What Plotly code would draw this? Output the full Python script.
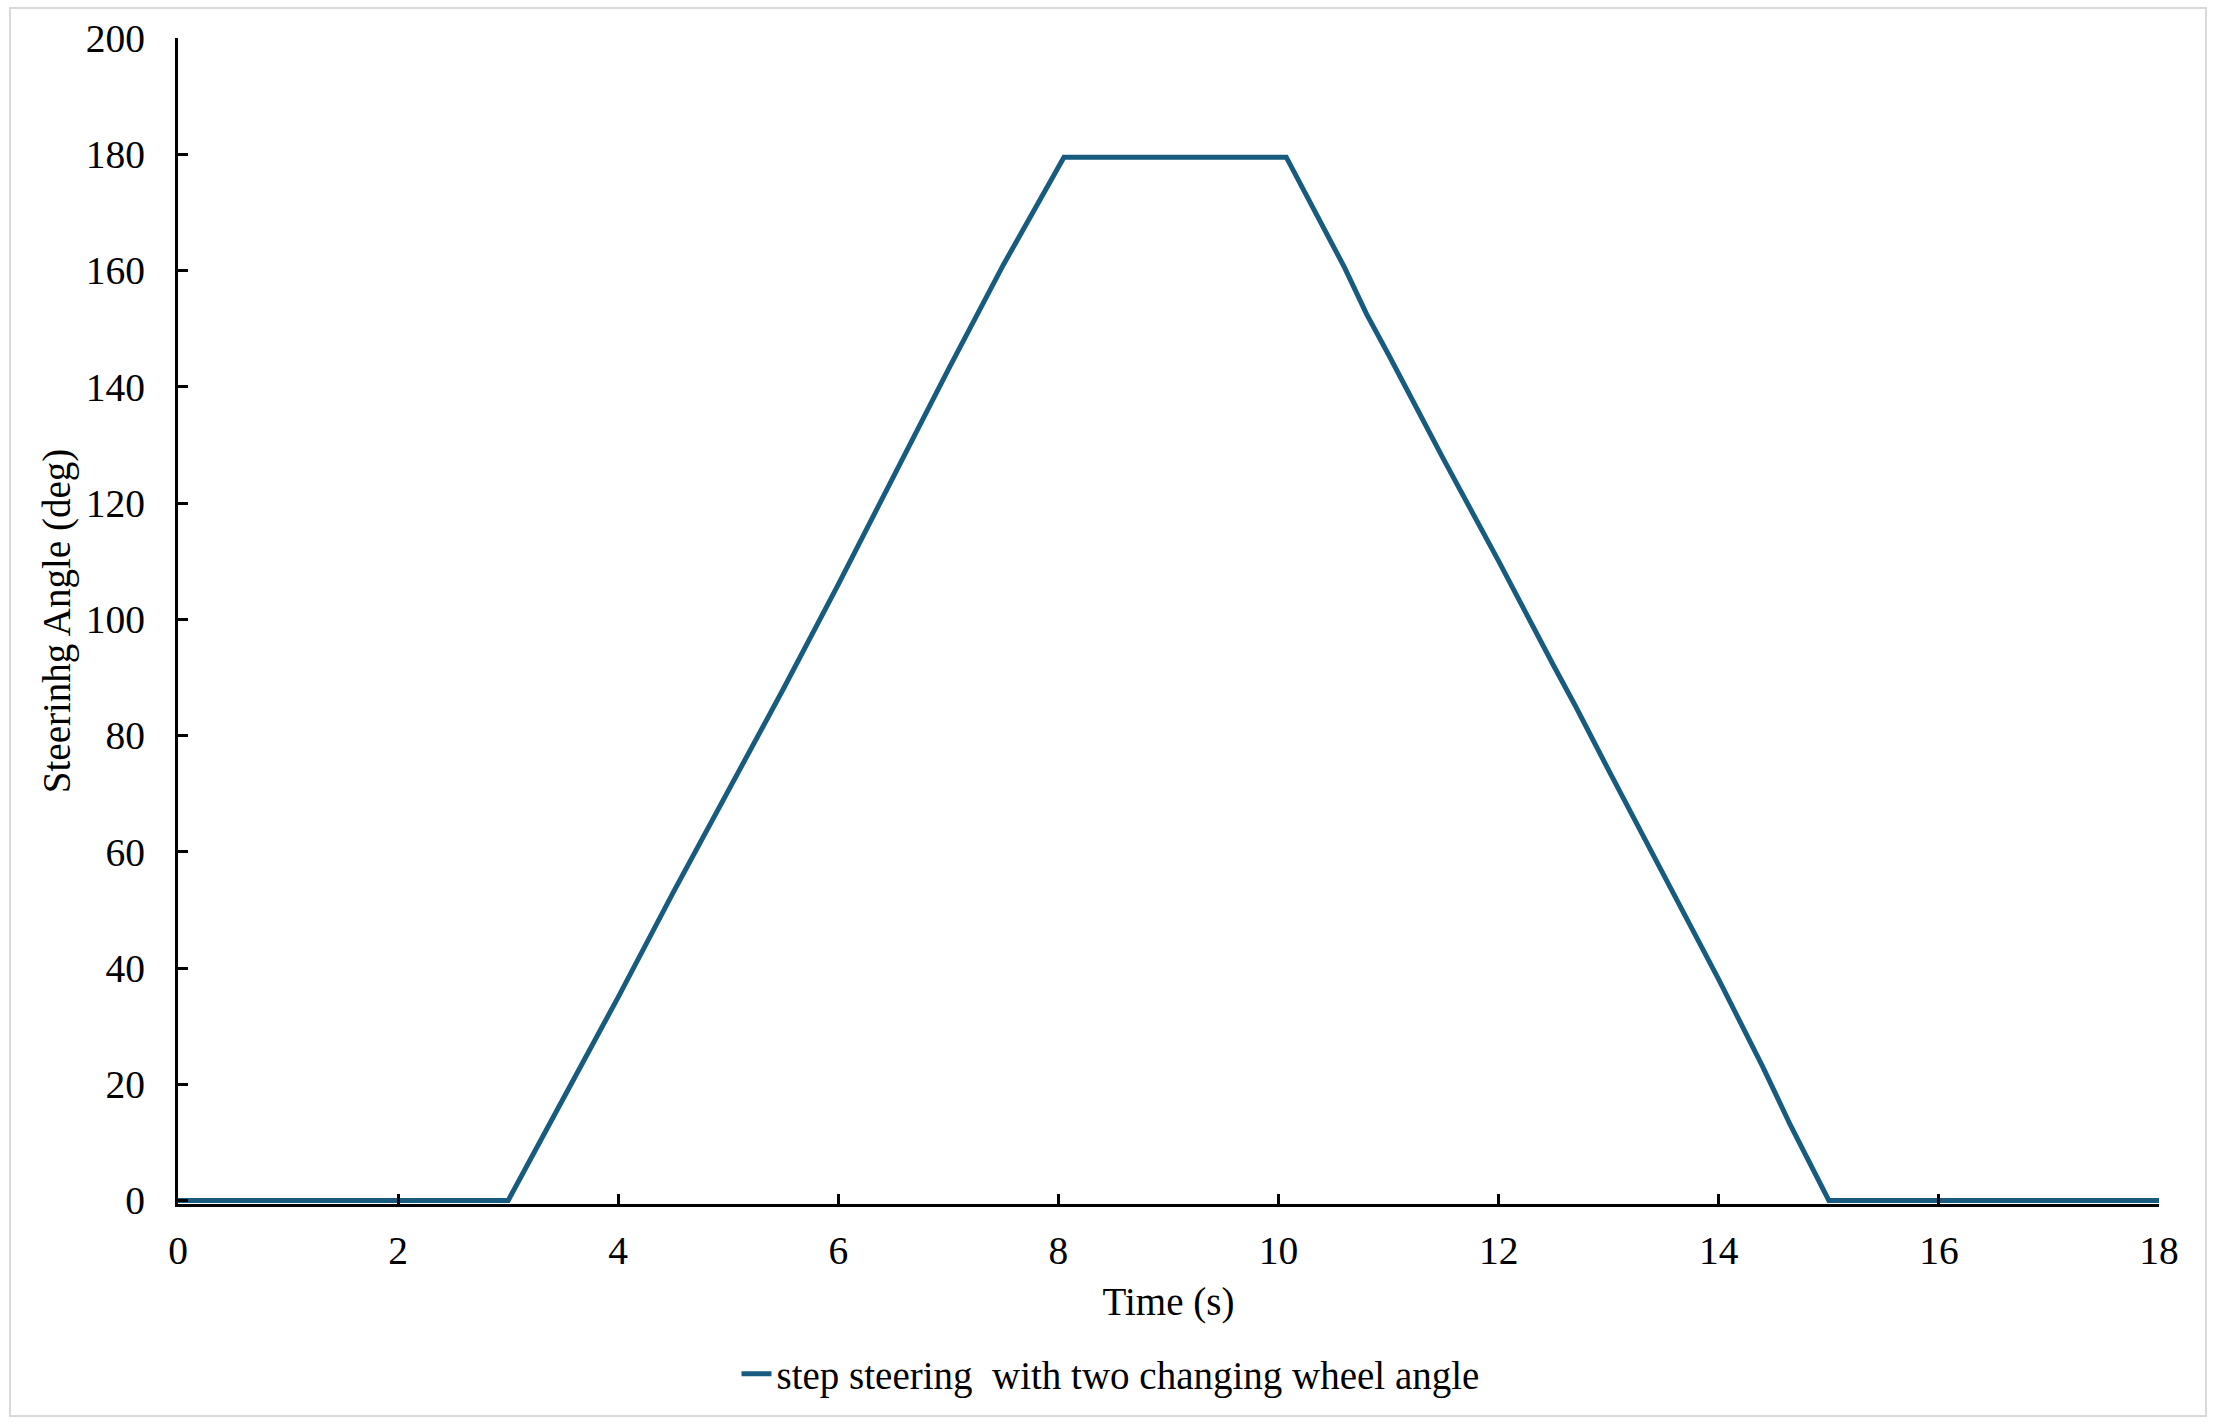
import plotly.graph_objects as go

# Data
time_s = [0, 3.0, 3.5, 4.0, 4.5, 5.0, 5.5, 6.0, 6.5, 7.0, 7.5, 8.05,
          10.07, 10.6, 10.8, 11.0, 11.5, 12.0, 12.5, 12.7, 13.0, 13.5, 14.0, 14.4, 14.65, 15.0, 18]
angle_deg = [0, 0, 17.5, 35, 53, 70.5, 88, 106, 124.5, 143, 161, 179.5,
             179.5, 160.5, 152.5, 145.5, 127.5, 110, 92, 85, 74, 56, 38, 23, 13, 0, 0]
series_name = "step steering  with two changing wheel angle"
x_ticks = [0, 2, 4, 6, 8, 10, 12, 14, 16, 18]
y_ticks = [0, 20, 40, 60, 80, 100, 120, 140, 160, 180, 200]

W, H = 2221, 1428
ML, MR, MT, MB = 178, 62, 38, 224
FONT = "Liberation Serif, Times New Roman, serif"
LINE_COLOR = "#175b7e"
TICK_SIZE = 39.5
TEXT_SIZE = 39

fig = go.Figure()
fig.add_trace(go.Scatter(
    x=time_s, y=angle_deg, mode="lines", name=series_name,
    line=dict(color=LINE_COLOR, width=5),
))

axis_common = dict(
    showgrid=False, zeroline=False, showline=True, linecolor="black", linewidth=3,
    ticks="inside", ticklen=10, tickwidth=3, tickcolor="black",
    tickfont=dict(family=FONT, size=TICK_SIZE, color="black"),
)

fig.update_xaxes(range=[0, 18], tickvals=x_ticks, ticklabelstandoff=10,
                 title=dict(text="Time (s)", font=dict(family=FONT, size=TEXT_SIZE, color="black"), standoff=16),
                 **axis_common)
fig.update_yaxes(range=[-0.6, 200], tickvals=y_ticks, ticklabelstandoff=22,
                 title=dict(text="Steerinhg Angle (deg)", font=dict(family=FONT, size=TEXT_SIZE, color="black"), standoff=4),
                 **axis_common)

# Outer light-gray frame around the whole figure (in paper coords)
pw, ph = W - ML - MR, H - MT - MB
def px_to_paper_x(px): return (px - ML) / pw
def px_to_paper_y(py): return (H - MB - py) / ph
fig.add_shape(type="rect", xref="paper", yref="paper",
              x0=px_to_paper_x(10), x1=px_to_paper_x(2206),
              y0=px_to_paper_y(1416), y1=px_to_paper_y(8),
              line=dict(color="#d9d9d9", width=2), layer="below")

fig.update_layout(
    width=W, height=H,
    margin=dict(l=ML, r=MR, t=MT, b=MB, autoexpand=False),
    paper_bgcolor="white", plot_bgcolor="white",
    font=dict(family=FONT, size=TEXT_SIZE, color="black"),
    showlegend=True,
    legend=dict(orientation="h", xref="container", yref="container",
                x=0.5, xanchor="center", y=1 - 1374 / H, yanchor="middle",
                font=dict(family=FONT, size=TEXT_SIZE, color="black"),
                bgcolor="rgba(0,0,0,0)"),
)

fig.write_html("out.html",
               config={"displayModeBar": False},
               post_script="document.body.style.margin='0';document.body.style.padding='0';")
